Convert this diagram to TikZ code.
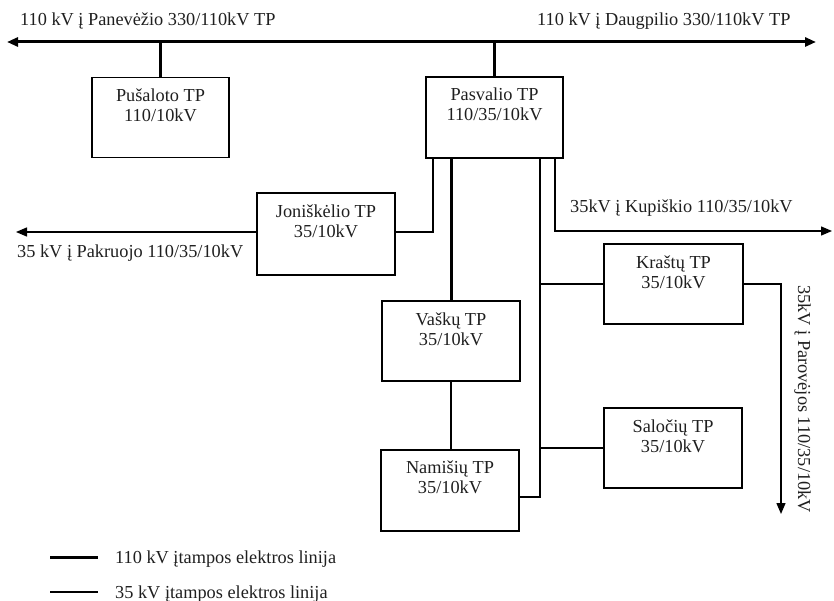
\documentclass[tikz,border=0pt]{standalone}
\usepackage{fontspec}
\setmainfont{Liberation Serif}
\usetikzlibrary{arrows.meta}
\begin{document}
\begin{tikzpicture}[x=1pt,y=-1pt,
  every node/.style={font=\fontsize{18.3}{20}\selectfont, text=black!88},
  tpbox/.style={draw, line width=1.8pt, minimum width=137pt, minimum height=80pt, inner sep=0pt},
  tplabel/.style={anchor=north, align=center, inner sep=0pt, yshift=-12pt},
  plain/.style={inner sep=0pt},
  hv/.style={line width=3pt},
  mv/.style={line width=1.4pt},
  tip/.style={-{Triangle[length=11pt,width=9pt]}},
  tips/.style={{Triangle[length=11pt,width=9pt]}-{Triangle[length=11pt,width=9pt]}}
]
\useasboundingbox (0,0) rectangle (834,601);

% 110 kV bus
\coordinate (busL) at (7,42);
\coordinate (busR) at (816,42);
\draw[hv,tips] (busL) -- (busR);
\node[plain, anchor=base west] (tPan) at (20,26) {110 kV į Panevėžio 330/110kV TP};
\node[plain, anchor=base west] (tDau) at (537,26) {110 kV į Daugpilio 330/110kV TP};

% boxes
\node[tpbox] (pus) at (160.5,117.5) {};
\node[tplabel] (pusT) at (pus.north) {Pušaloto TP\\110/10kV};
\node[tpbox, minimum height=81pt] (pas) at (494.5,117.5) {};
\node[tplabel] (pasT) at (pas.north) {Pasvalio TP\\110/35/10kV};
\node[tpbox, minimum width=138pt, minimum height=82pt] (jon) at (326,234) {};
\node[tplabel] (jonT) at (jon.north) {Joniškėlio TP\\35/10kV};
\node[tpbox, minimum width=138pt] (vas) at (451,341) {};
\node[tplabel] (vasT) at (vas.north) {Vaškų TP\\35/10kV};
\node[tpbox, minimum width=138pt, minimum height=81pt, line width=2.6pt] (nam) at (450,490.5) {};
\node[tplabel] (namT) at (nam.north) {Namišių TP\\35/10kV};
\node[tpbox, minimum width=139pt] (kra) at (673.5,284) {};
\node[tplabel] (kraT) at (kra.north) {Kraštų TP\\35/10kV};
\node[tpbox, minimum width=138pt] (sal) at (673,448) {};
\node[tplabel] (salT) at (sal.north) {Saločių TP\\35/10kV};

% 110 kV connections
\draw[hv] (pus.north) -- (pus.north |- busL);
\draw[hv] (pas.north) -- (pas.north |- busL);
\draw[hv] (vas.north) -- (vas.north |- pas.south);

% Joniškėlio
\coordinate (jonL) at (16,232);
\coordinate (jonUp) at (433,232);
\draw[mv,tip] (jon.west |- jonL) -- (jonL);
\node[plain, anchor=base west] (tPak) at (17,258) {35 kV į Pakruojo 110/35/10kV};
\draw[mv] (jon.east |- jonUp) -- (jonUp) -- (jonUp |- pas.south);

% Vaškų - Namišių
\draw[mv] (vas.south) -- (vas.south |- nam.north);

% 35 kV feeder at x=540
\coordinate (bus35) at (540,497);
\draw[mv] (bus35 |- pas.south) -- (bus35) -- (nam.east |- bus35);
\draw[mv] (kra.west -| bus35) -- (kra.west);
\draw[mv] (sal.west -| bus35) -- (sal.west);

% Kupiškio
\coordinate (kupC) at (555,231);
\coordinate (kupE) at (832,231);
\draw[mv,tip] (kupC |- pas.south) -- (kupC) -- (kupE);
\node[plain, anchor=base west] (tKup) at (570,213) {35kV į Kupiškio 110/35/10kV};

% Parovėjos
\coordinate (parC) at (781,284);
\coordinate (parE) at (781,514);
\draw[mv,tip] (kra.east) -- (parC) -- (parE);
\node[plain, rotate=-90, anchor=base west] (tPar) at (798,285) {35kV į Parovėjos 110/35/10kV};

% legend
\coordinate (lg1a) at (50,557);
\coordinate (lg1b) at (98,557);
\coordinate (lg2a) at (50,592);
\coordinate (lg2b) at (98,592);
\draw[hv] (lg1a) -- (lg1b);
\draw[mv] (lg2a) -- (lg2b);
\node[plain, anchor=base west] (tLg1) at (115,563) {110 kV įtampos elektros linija};
\node[plain, anchor=base west] (tLg2) at (115,598) {35 kV įtampos elektros linija};
\end{tikzpicture}
\end{document}
